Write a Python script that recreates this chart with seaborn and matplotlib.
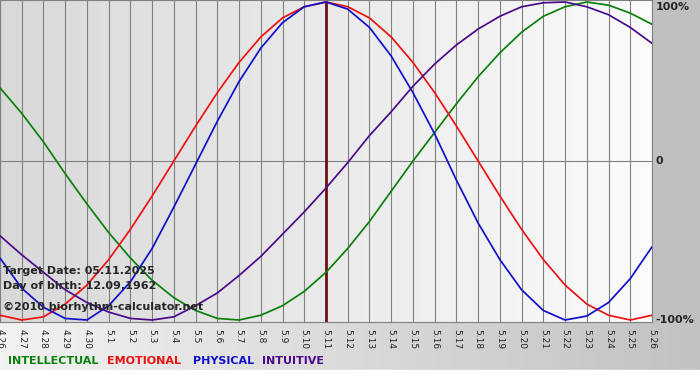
import numpy as np
import pandas as pd
import seaborn as sns
import matplotlib.pyplot as plt

# day labels (month.day)
days = ["4.26", "4.27", "4.28", "4.29", "4.30"] + ["5.%d" % d for d in range(1, 27)]

# values, -1 .. 1
intellectual = [0.46, 0.30, 0.12, -0.08, -0.27, -0.45, -0.61, -0.75, -0.86, -0.94,
                -0.99, -1.00, -0.97, -0.91, -0.82, -0.70, -0.55, -0.38, -0.19, 0.00,
                0.18, 0.36, 0.53, 0.68, 0.81, 0.91, 0.97, 1.00, 0.98, 0.93, 0.86]
emotional = [-0.97, -1.00, -0.98, -0.90, -0.78, -0.62, -0.43, -0.22, 0.00, 0.22,
             0.43, 0.62, 0.78, 0.90, 0.97, 1.00, 0.97, 0.90, 0.78, 0.62,
             0.43, 0.22, 0.00, -0.22, -0.43, -0.62, -0.78, -0.90, -0.97, -1.00, -0.97]
physical = [-0.61, -0.80, -0.92, -0.99, -1.00, -0.91, -0.76, -0.55, -0.29, -0.02,
            0.25, 0.50, 0.71, 0.87, 0.97, 1.00, 0.955, 0.84, 0.66, 0.43,
            0.17, -0.12, -0.39, -0.62, -0.81, -0.94, -1.00, -0.975, -0.89, -0.74, -0.54]
intuitive = [-0.47, -0.59, -0.70, -0.81, -0.89, -0.95, -0.99, -1.00, -0.98, -0.91,
             -0.83, -0.72, -0.60, -0.46, -0.32, -0.17, -0.01, 0.16, 0.31, 0.47,
             0.61, 0.73, 0.83, 0.91, 0.97, 0.995, 1.00, 0.97, 0.92, 0.84, 0.74]

cycles = ["INTELLECTUAL", "EMOTIONAL", "PHYSICAL", "INTUITIVE"]
colors = ["#0a800a", "#ee1111", "#1010cc", "#4b0a8a"]
target_day = "5.11"

sns.set_style("white")
plt.rcParams["font.family"] = ["DejaVu Sans"]

rows = []
for name, vals in zip(cycles, [intellectual, emotional, physical, intuitive]):
    for i, v in enumerate(vals):
        rows.append({"day": i, "value": v, "cycle": name})
df = pd.DataFrame(rows)

W, H = 700, 380
fig = plt.figure(figsize=(7, 3.8), dpi=100)

# background: gray right strip, gradient bottom band, white footer
bg = fig.add_axes([0, 0, 1, 1])
bg.set_xlim(0, W)
bg.set_ylim(H, 0)
bg.axis("off")
bg.add_patch(plt.Rectangle((0, 0), W, H, color="#c0c0c0", zorder=0))
band = np.linspace(0.95, 0.76, 256).reshape(1, -1)
bg.imshow(np.dstack([band, band, band]), extent=(0, W, 370, 322), aspect="auto", zorder=1)
bg.add_patch(plt.Rectangle((0, 370), W, 10, color="white", zorder=2))

ax = fig.add_axes([0, 1 - 322 / H, 652 / W, 322 / H])
grad = np.linspace(0.85, 0.985, 256).reshape(1, -1)
ax.imshow(np.dstack([grad, grad, grad]), extent=(0, 30, -1.0125, 1.0125),
          aspect="auto", zorder=0)

for i in range(31):
    ax.axvline(i, color="#808080", lw=0.8, zorder=1)
ax.axhline(0, color="#808080", lw=0.8, zorder=1)
ax.axvline(days.index(target_day), color="#6e1010", lw=2, zorder=2)

sns.lineplot(data=df, x="day", y="value", hue="cycle", hue_order=cycles,
             palette=colors, linewidth=1.25, legend=False, ax=ax, zorder=3)

ax.set_xlim(0, 30)
ax.set_ylim(-1.0125, 1.0125)
ax.set_xlabel("")
ax.set_ylabel("")
ax.set_yticks([])
ax.set_xticks(range(31))
ax.set_xticklabels(days, rotation=-90, fontsize=6.5, color="#222222")
ax.tick_params(axis="x", direction="out", length=4, width=0.8, color="#808080", pad=1)
for s in ax.spines.values():
    s.set_color("#808080")
    s.set_linewidth(0.8)

# right-hand scale labels
ax.text(30.15, 1.0, "100%", fontsize=8, fontweight="bold", va="top", ha="left", clip_on=False)
ax.text(30.15, 0.0, "0", fontsize=8, fontweight="bold", va="center", ha="left", clip_on=False)
ax.text(30.15, -1.0, "-100%", fontsize=8, fontweight="bold", va="center", ha="left", clip_on=False)

# info text
fig.text(3 / W, 1 - 271 / H, "Target Date: 05.11.2025", fontsize=8, fontweight="bold", va="center")
fig.text(3 / W, 1 - 286 / H, "Day of birth: 12.09.1962", fontsize=8, fontweight="bold", va="center")
fig.text(3 / W, 1 - 307 / H, "©2010 biorhythm-calculator.net", fontsize=8, fontweight="bold", va="center")

# legend row
xs = [8, 107, 193, 262]
for x, name, c in zip(xs, cycles, colors):
    fig.text(x / W, 1 - 361 / H, name, fontsize=8, fontweight="bold", color=c, va="center")

fig.savefig("out.png", dpi=100)
